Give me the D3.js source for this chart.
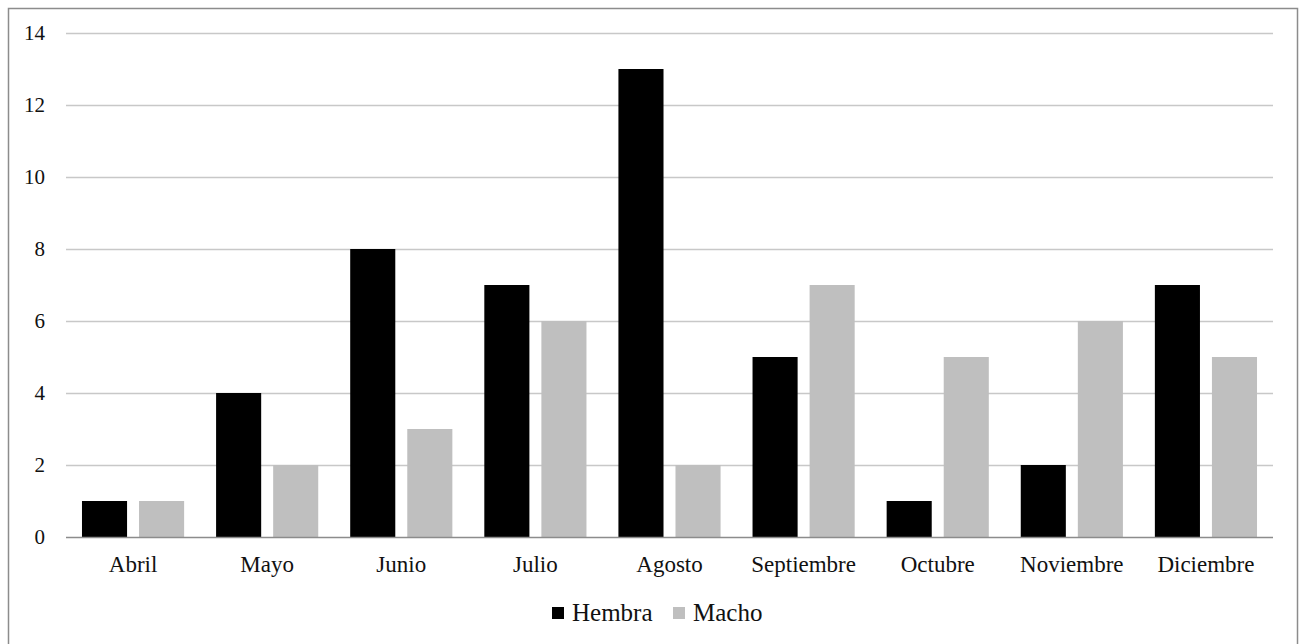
<!DOCTYPE html>
<html>
<head>
<meta charset="utf-8">
<script src="https://cdn.jsdelivr.net/npm/d3@7"></script>
<style>
  html, body { margin: 0; padding: 0; background: #fff; }
  svg { display: block; }
  text { font-family: "Liberation Serif", "Times New Roman", serif; fill: #111; }
</style>
</head>
<body>
<svg id="chart" width="1305" height="644"></svg>
<script>
// Monthly counts by sex
const months = ["Abril", "Mayo", "Junio", "Julio", "Agosto", "Septiembre", "Octubre", "Noviembre", "Diciembre"];
const hembra = [1, 4, 8, 7, 13, 5, 1, 2, 7];
const macho = [1, 2, 3, 6, 2, 7, 5, 6, 5];
const seriesNames = ["Hembra", "Macho"];
const yTicks = [0, 2, 4, 6, 8, 10, 12, 14];

const colors = { Hembra: "#000000", Macho: "#bfbfbf" };

const svg = d3.select("#chart");

// outer frame
svg.append("rect")
  .attr("x", 8.5).attr("y", 8.5)
  .attr("width", 1289).attr("height", 640)
  .attr("fill", "#fff").attr("stroke", "#8c8c8c").attr("stroke-width", 1.5);

const plot = { left: 66, right: 1273, top: 33, bottom: 537 };

const x = d3.scaleBand().domain(months).range([plot.left, plot.right]).paddingInner(0).paddingOuter(0);
const xs = d3.scaleBand().domain(seriesNames).range([0, x.bandwidth()]).paddingInner(0.21).paddingOuter(0.28);
const y = d3.scaleLinear().domain([0, 14]).range([plot.bottom, plot.top]);

// gridlines
svg.append("g").selectAll("line")
  .data(yTicks.filter(d => d > 0))
  .join("line")
  .attr("x1", plot.left).attr("x2", plot.right)
  .attr("y1", d => Math.round(y(d)) + 0.5).attr("y2", d => Math.round(y(d)) + 0.5)
  .attr("stroke", "#c8c8c8").attr("stroke-width", 1.5);

// y axis labels
const yAxis = d3.axisLeft(y).tickValues(yTicks).tickSize(0).tickPadding(0).tickFormat(d3.format("d"));
svg.append("g")
  .attr("transform", `translate(45,0)`)
  .call(yAxis)
  .call(g => g.select(".domain").remove())
  .call(g => g.selectAll("text")
    .attr("font-size", 21)
    .attr("font-family", "'Liberation Serif', serif")
    .attr("fill", "#111"));

// bars
const rows = months.map((m, i) => ({ month: m, Hembra: hembra[i], Macho: macho[i] }));
svg.append("g").selectAll("g")
  .data(rows)
  .join("g")
  .attr("transform", d => `translate(${x(d.month)},0)`)
  .selectAll("rect")
  .data(d => seriesNames.map(k => ({ key: k, value: d[k] })))
  .join("rect")
  .attr("x", d => xs(d.key))
  .attr("width", xs.bandwidth())
  .attr("y", d => y(d.value))
  .attr("height", d => y(0) - y(d.value))
  .attr("fill", d => colors[d.key]);

// baseline
svg.append("line")
  .attr("x1", plot.left).attr("x2", plot.right)
  .attr("y1", y(0) + 0.5).attr("y2", y(0) + 0.5)
  .attr("stroke", "#8c8c8c").attr("stroke-width", 1.5);

// x axis labels
const xAxis = d3.axisBottom(x).tickSize(0).tickPadding(0);
svg.append("g")
  .attr("transform", `translate(0,${plot.bottom})`)
  .call(xAxis)
  .call(g => g.select(".domain").remove())
  .call(g => g.selectAll("text")
    .attr("dy", null).attr("y", 35)
    .attr("font-size", 23)
    .attr("font-family", "'Liberation Serif', serif")
    .attr("fill", "#111"));

// legend
const legend = svg.append("g").attr("transform", "translate(552,607)");
const legendItems = [
  { key: "Hembra", dx: 0 },
  { key: "Macho", dx: 121 }
];
legendItems.forEach(it => {
  const g = legend.append("g").attr("transform", `translate(${it.dx},0)`);
  g.append("rect").attr("width", 12).attr("height", 12).attr("fill", colors[it.key]);
  g.append("text").attr("x", 20).attr("y", 14)
    .attr("font-size", 25)
    .text(it.key);
});
</script>
</body>
</html>
